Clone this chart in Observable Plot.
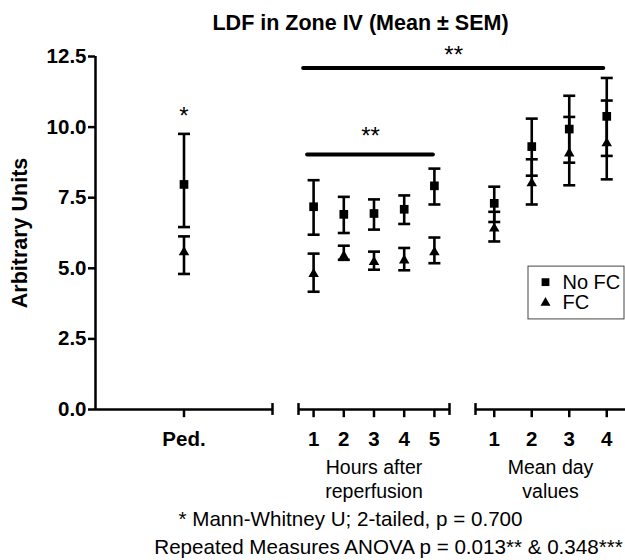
<!DOCTYPE html>
<html>
<head>
<meta charset="utf-8">
<script src="https://cdn.jsdelivr.net/npm/d3@7"></script>
<script src="https://cdn.jsdelivr.net/npm/@observablehq/plot@0.6"></script>
<style>
  html, body { margin: 0; padding: 0; background: white; }
  #chart svg { display: block; }
</style>
</head>
<body>
<div id="chart"></div>
<script>
// ---- data ----
const categories = ["Ped.", "1", "2", "3", "4", "5", "1", "2", "3", "4"];
const groupOf    = ["Ped", "Hours", "Hours", "Hours", "Hours", "Hours", "Days", "Days", "Days", "Days"];
const noFCMean = [7.97, 7.18, 6.91, 6.94, 7.09, 7.92, 7.30, 9.31, 9.93, 10.38];
const noFCLow  = [6.46, 6.19, 6.25, 6.37, 6.57, 7.26, 6.64, 8.28, 8.74, 8.98];
const noFCHigh = [9.76, 8.12, 7.53, 7.44, 7.58, 8.53, 7.89, 10.30, 11.11, 11.74];
const fcMean   = [5.57, 4.80, 5.43, 5.22, 5.28, 5.57, 6.41, 8.01, 9.07, 9.43];
const fcLow    = [4.80, 4.17, 5.30, 4.95, 4.93, 5.18, 5.95, 7.26, 7.94, 8.15];
const fcHigh   = [6.13, 5.52, 5.80, 5.59, 5.72, 6.09, 7.00, 8.86, 10.36, 10.94];
const yTicks = [0, 2.5, 5, 7.5, 10, 12.5];
const seriesNames = ["No FC", "FC"];
const groupTitles = {Hours: "Hours after\nreperfusion", Days: "Mean day\nvalues"};
const title = "LDF in Zone IV (Mean \u00B1 SEM)";
const yLabel = "Arbitrary Units";
const footnote1 = "* Mann-Whitney U; 2-tailed, p = 0.700";
const footnote2 = "Repeated Measures ANOVA p = 0.013** & 0.348***";

// ---- layout of the broken x axis (segments in x-scale units) ----
const segments = [
  {group: "Ped",   start: 0,   end: 177, startTick: false, endTick: true},
  {group: "Hours", start: 203, end: 354, startTick: true,  endTick: true},
  {group: "Days",  start: 380, end: 530, startTick: true,  endTick: false}
];
const segBy = Object.fromEntries(segments.map(s => [s.group, s]));
const counts = {};
groupOf.forEach(g => counts[g] = (counts[g] || 0) + 1);
const seen = {};
const pts = categories.map((c, i) => {
  const g = groupOf[i];
  const k = seen[g] = (seen[g] === undefined ? 0 : seen[g] + 1);
  const s = segBy[g];
  const slot = (s.end - s.start) / counts[g];
  return {
    cat: c, group: g, x: s.start + (k + 0.5) * slot,
    nMean: noFCMean[i], nLow: noFCLow[i], nHigh: noFCHigh[i],
    fMean: fcMean[i], fLow: fcLow[i], fHigh: fcHigh[i]
  };
});
const xOf = (g, k) => pts.filter(p => p.group === g)[k].x;
const segEnds = [];
segments.forEach(s => { if (s.startTick) segEnds.push(s.start); if (s.endTick) segEnds.push(s.end); });
const groupLabels = segments.filter(s => groupTitles[s.group])
  .map(s => ({x: (s.start + s.end) / 2, text: groupTitles[s.group]}));

// significance bars
const sigBars = [
  {x1: xOf("Hours", 0) - 10, x2: xOf("Days", 3) - 3, y: 12.09, label: "**", gap: -5},
  {x1: xOf("Hours", 0) - 6,  x2: xOf("Hours", 4) - 1, y: 9.03,  label: "**", gap: -9}
];

// cap symbol for error bars (horizontal line, half-width = r)
const capSymbol = {
  draw(context, size) {
    const w = Math.sqrt(size / Math.PI);
    context.moveTo(-w, 0);
    context.lineTo(w, 0);
  }
};

const FONT = "'Liberation Sans', Arial, Helvetica, sans-serif";
const legendBox = {x1: 433, x2: 529, y1: 3.19, y2: 5.06};
const legendItems = [
  {name: seriesNames[0], symbol: "square", y: 4.51},
  {name: seriesNames[1], symbol: "triangle", y: 3.78}
];

const chart = Plot.plot({
  width: 625,
  height: 560,
  marginLeft: 95,
  marginRight: 0,
  marginTop: 56,
  marginBottom: 151,
  style: {fontFamily: FONT, color: "black", background: "white", overflow: "visible"},
  x: {type: "linear", domain: [0, 530], axis: null},
  y: {domain: [0, 12.5], axis: null},
  marks: [
    // y axis line and ticks
    Plot.ruleX([0], {y1: 0, y2: 12.5, stroke: "black", strokeWidth: 2.5}),
    Plot.axisY({ticks: yTicks, tickFormat: d3.format(".1f"), tickSize: 7, tickPadding: 2,
      fontSize: 20.5, fontWeight: "bold", label: null, strokeWidth: 2.5, stroke: "black"}),
    Plot.text([yLabel], {frameAnchor: "left", textAnchor: "middle", dx: -75, rotate: -90, fontSize: 21.5, fontWeight: "bold"}),
    // broken x axis
    Plot.ruleY(segments, {y: 0, x1: "start", x2: "end", stroke: "black", strokeWidth: 2.5}),
    Plot.ruleX(segEnds, {x: d => d, y1: -0.21, y2: 0.21, stroke: "black", strokeWidth: 2.5}),
    Plot.ruleX(pts, {x: "x", y1: 0, y2: -0.29, stroke: "black", strokeWidth: 2.5}),
    Plot.text(pts, {x: "x", y: 0, text: "cat", dy: 30, fontSize: 20.5, fontWeight: "bold"}),
    Plot.text(groupLabels, {x: "x", y: 0, text: "text", dy: 48, lineAnchor: "top", lineHeight: 1.2, fontSize: 19.5}),
    // error bars
    Plot.ruleX(pts, {x: "x", y1: "nLow", y2: "nHigh", stroke: "black", strokeWidth: 2.6}),
    Plot.ruleX(pts, {x: "x", y1: "fLow", y2: "fHigh", stroke: "black", strokeWidth: 2.6}),
    Plot.dot(pts, {x: "x", y: "nLow", symbol: capSymbol, r: 6, stroke: "black", strokeWidth: 2.6}),
    Plot.dot(pts, {x: "x", y: "nHigh", symbol: capSymbol, r: 6, stroke: "black", strokeWidth: 2.6}),
    Plot.dot(pts, {x: "x", y: "fLow", symbol: capSymbol, r: 6, stroke: "black", strokeWidth: 2.6}),
    Plot.dot(pts, {x: "x", y: "fHigh", symbol: capSymbol, r: 6, stroke: "black", strokeWidth: 2.6}),
    // markers
    Plot.dot(pts, {x: "x", y: "nMean", symbol: "square", r: 4.9, fill: "black", stroke: null}),
    Plot.dot(pts, {x: "x", y: "fMean", symbol: "triangle", r: 3.9, fill: "black", stroke: null}),
    // significance
    Plot.ruleY(sigBars, {y: "y", x1: "x1", x2: "x2", stroke: "black", strokeWidth: 4, strokeLinecap: "round"}),
    Plot.text(sigBars.slice(0, 1), {x: d => (d.x1 + d.x2) / 2, y: "y", text: "label", dy: -5, lineAnchor: "bottom", fontSize: 24}),
    Plot.text(sigBars.slice(1), {x: d => (d.x1 + d.x2) / 2, y: "y", text: "label", dy: -10, lineAnchor: "bottom", fontSize: 24}),
    Plot.text(pts.filter(p => p.group === "Ped"), {x: "x", y: "nHigh", text: () => "*", dy: -10, lineAnchor: "bottom", fontSize: 24}),
    // legend
    Plot.rect([legendBox], {x1: "x1", x2: "x2", y1: "y1", y2: "y2", fill: "white", stroke: "#444", strokeWidth: 1}),
    Plot.dot(legendItems.slice(0, 1), {x: 450, y: "y", symbol: "square", r: 4.4, fill: "black", stroke: null}),
    Plot.dot(legendItems.slice(1), {x: 450, y: "y", symbol: "triangle", r: 3.7, fill: "black", stroke: null}),
    Plot.text(legendItems, {x: 467, y: "y", text: "name", textAnchor: "start", fontSize: 20}),
    // title and footnotes
    Plot.text([title], {frameAnchor: "top", dy: -42, fontSize: 21.5, fontWeight: "bold"}),
    Plot.text([footnote1], {x: 255, y: 0, dy: 110, fontSize: 20.6}),
    Plot.text([footnote2], {x: 293, y: 0, dy: 138, fontSize: 20.6})
  ]
});
document.getElementById("chart").appendChild(chart);
</script>
</body>
</html>
